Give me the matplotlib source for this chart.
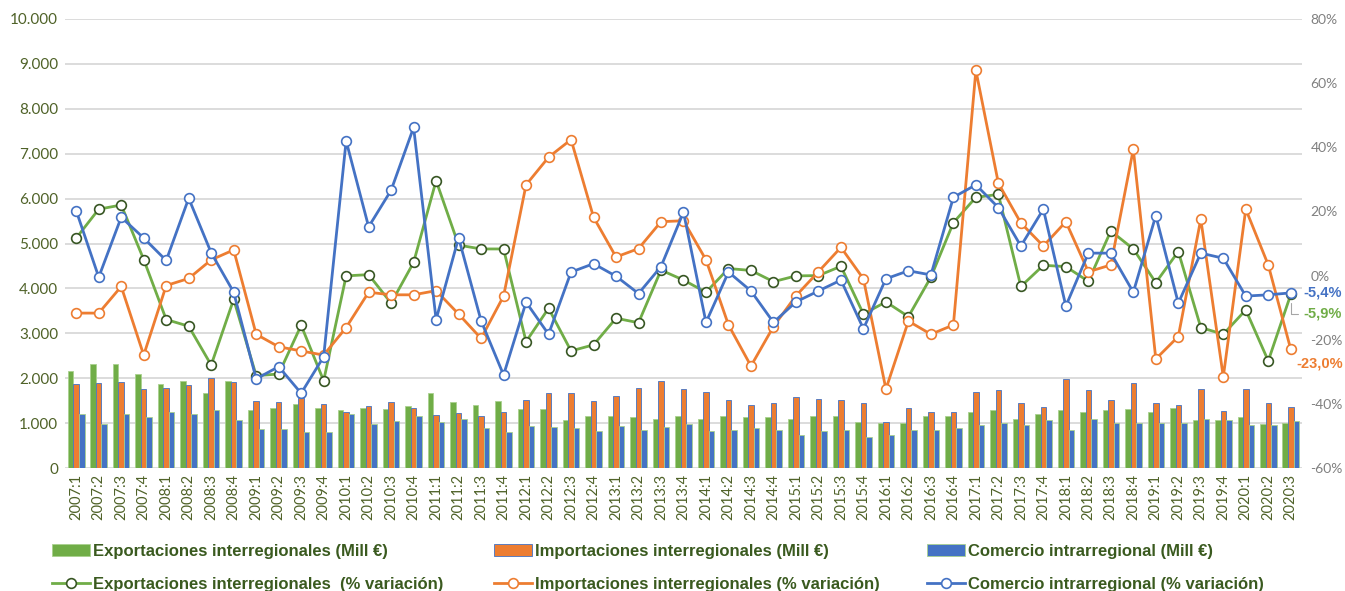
import matplotlib
matplotlib.use("Agg")
import matplotlib.pyplot as plt
from matplotlib.ticker import FixedLocator, FuncFormatter
import numpy as np

years = range(2007, 2021)
quarters = [f"{y}:{q}" for y in years for q in (1, 2, 3, 4)][:55]

# Mill € (left axis)
exports_mill = [2160, 2320, 2320, 2100, 1865, 1945, 1680, 1945, 1285, 1345, 1435, 1330,
                1285, 1345, 1310, 1370, 1680, 1462, 1402, 1492, 1313, 1313, 1067, 1164,
                1164, 1126, 1097, 1164, 1097, 1164, 1126, 1126, 1097, 1164, 1164, 1015,
                1007, 1007, 1164, 1164, 1253, 1283, 1097, 1194, 1283, 1253, 1283, 1313,
                1253, 1343, 1067, 1067, 1126, 985, 1007]
imports_mill = [1865, 1885, 1910, 1760, 1790, 1855, 2000, 1910, 1490, 1460, 1555, 1435,
                1255, 1375, 1460, 1330, 1180, 1216, 1156, 1246, 1514, 1679, 1679, 1492,
                1611, 1790, 1947, 1760, 1701, 1514, 1395, 1455, 1581, 1544, 1514, 1455,
                1030, 1343, 1246, 1246, 1701, 1731, 1455, 1365, 1977, 1731, 1514, 1887,
                1455, 1402, 1760, 1276, 1760, 1455, 1365]
intra_mill = [1195, 980, 1195, 1130, 1255, 1195, 1285, 1070, 865, 865, 810, 810,
              1195, 980, 1040, 1165, 1030, 1089, 880, 791, 940, 910, 880, 821,
              940, 850, 910, 970, 821, 850, 880, 850, 731, 821, 850, 701,
              731, 850, 850, 880, 947, 1007, 947, 1067, 850, 1097, 1007, 1007,
              1007, 1007, 1097, 1067, 947, 947, 1037]

# % variación (right axis)
exports_pct = [11.7, 20.7, 22.0, 5.0, -13.7, -15.8, -27.9, -7.4, -31.2, -30.7, -15.5, -32.8,
               -0.1, 0.3, -8.6, 4.1, 29.6, 9.5, 8.3, 8.3, -20.6, -10.2, -23.5, -21.6,
               -13.3, -14.7, 1.7, -1.4, -5.2, 2.2, 1.6, -1.9, -0.1, 0.0, 2.9, -12.0,
               -8.2, -12.8, -0.5, 16.5, 24.4, 25.3, -3.4, 3.2, 2.8, -1.8, 13.9, 8.3,
               -2.2, 7.5, -16.2, -18.3, -10.7, -26.6, -5.9]
imports_pct = [-11.7, -11.7, -3.4, -24.8, -3.1, -0.9, 4.9, 8.0, -18.3, -22.2, -23.5, -24.8,
               -16.2, -5.2, -6.0, -6.0, -4.7, -12.0, -19.6, -6.4, 28.3, 36.9, 42.4, 18.2,
               5.8, 8.4, 16.8, 17.1, 4.9, -15.4, -28.2, -15.9, -6.3, 1.2, 8.8, -1.0,
               -35.4, -14.2, -18.3, -15.4, 64.0, 28.8, 16.4, 9.2, 16.8, 1.2, 3.3, 39.4,
               -26.0, -19.0, 17.6, -31.6, 20.7, 3.3, -23.0]
intra_pct = [20.2, -0.5, 18.2, 11.7, 4.7, 24.1, 7.1, -5.2, -32.2, -28.4, -36.7, -25.3,
             42.0, 15.2, 26.6, 46.2, -13.7, 11.8, -14.1, -31.0, -8.3, -18.3, 1.1, 3.7,
             -0.2, -5.6, 2.8, 19.8, -14.6, 1.1, -4.8, -14.6, -8.2, -4.8, -1.4, -16.6,
             -1.0, 1.5, 0.2, 24.4, 28.3, 21.2, 9.2, 20.7, -9.5, 7.0, 7.0, -5.2,
             18.7, -8.6, 7.0, 5.4, -6.4, -6.0, -5.4]

GREEN = "#70ad47"
DGREEN = "#375623"
ORANGE = "#ed7d31"
BLUE = "#4472c4"
TXT = "#4f6228"
GRAY = "#808080"

plt.rcParams["font.family"] = ["Lato", "DejaVu Sans"]

fig = plt.figure(figsize=(13.45, 5.91), dpi=100)
ax = fig.add_axes([65 / 1345, 1 - 468 / 591, 1237 / 1345, 449 / 591])
ax2 = ax.twinx()

x = np.arange(len(quarters))
w = 0.245
ax.bar(x - w, exports_mill, w, color=GREEN, edgecolor="#a9d18e", linewidth=0.6,
       label="Exportaciones interregionales (Mill €)")
ax.bar(x, imports_mill, w, color=ORANGE, edgecolor=BLUE, linewidth=0.6,
       label="Importaciones interregionales (Mill €)")
ax.bar(x + w, intra_mill, w, color=BLUE, edgecolor="#a9d18e", linewidth=0.6,
       label="Comercio intrarregional (Mill €)")

mk = dict(marker="o", markersize=7, markerfacecolor="white", markeredgewidth=1.2, linewidth=2)
ax2.plot(x, exports_pct, color=GREEN, markeredgecolor=DGREEN,
         label="Exportaciones interregionales  (% variación)", **mk)
ax2.plot(x, imports_pct, color=ORANGE, markeredgecolor=ORANGE,
         label="Importaciones interregionales (% variación)", **mk)
ax2.plot(x, intra_pct, color=BLUE, markeredgecolor=BLUE,
         label="Comercio intrarregional (% variación)", **mk)

ax.set_xlim(-0.5, len(quarters) - 0.5)
ax.set_ylim(0, 10000)
ax2.set_ylim(-60, 80)
ax.yaxis.set_major_locator(FixedLocator(np.arange(0, 10001, 1000)))
ax.yaxis.set_major_formatter(FuncFormatter(lambda v, p: f"{int(v):,}".replace(",", ".")))
ax2.yaxis.set_major_locator(FixedLocator(np.arange(-60, 81, 20)))
ax2.yaxis.set_major_formatter(FuncFormatter(lambda v, p: f"{int(v)}%"))
ax.grid(axis="y", color="#d9d9d9", linewidth=1.3)
ax.set_axisbelow(True)
for a in (ax, ax2):
    for s in a.spines.values():
        s.set_visible(False)
ax.tick_params(axis="y", length=0, labelsize=11, labelcolor=TXT, pad=5)
ax2.tick_params(axis="y", length=0, labelsize=10, labelcolor=GRAY, pad=6)
ax.set_xticks(x)
ax.set_xticklabels(quarters, rotation=90, fontsize=10.5, color=TXT)
ax.tick_params(axis="x", length=0, pad=4)

# end labels of the last quarter
endfont = dict(family=["Liberation Sans", "DejaVu Sans"], fontsize=10.5, fontweight="bold",
               va="center", annotation_clip=False, textcoords="offset points")
ax2.annotate("-5,4%", xy=(x[-1], intra_pct[-1]), xytext=(9, 0), color=BLUE, **endfont)
ax2.annotate("-5,9%", xy=(x[-1], exports_pct[-1]), xytext=(9, -14), color=GREEN,
             arrowprops=dict(arrowstyle="-", color="#a6a6a6", lw=0.8, relpos=(0, 0.5),
                             connectionstyle="angle,angleA=0,angleB=90,rad=0",
                             shrinkA=2, shrinkB=6), **endfont)
ax2.annotate("-23,0%", xy=(x[-1], imports_pct[-1]), xytext=(4, -10), color=ORANGE, **endfont)

# legends: three columns of two entries
bh, bl = ax.get_legend_handles_labels()
lh, ll = ax2.get_legend_handles_labels()
legfont = dict(family=["Liberation Sans", "DejaVu Sans"], weight="bold", size=12)
for i, xpos in enumerate([52, 494, 927]):
    lg = fig.legend([bh[i], lh[i]], [bl[i], ll[i]], loc="upper left",
                    bbox_to_anchor=(xpos / 1345, 1 - 544 / 591), frameon=False,
                    prop=legfont, handlelength=2.3, handletextpad=0.15,
                    labelspacing=1.05, borderpad=0, borderaxespad=0)
    for t in lg.get_texts():
        t.set_color("#3a5a1f")

fig.savefig("out.png", dpi=100)
